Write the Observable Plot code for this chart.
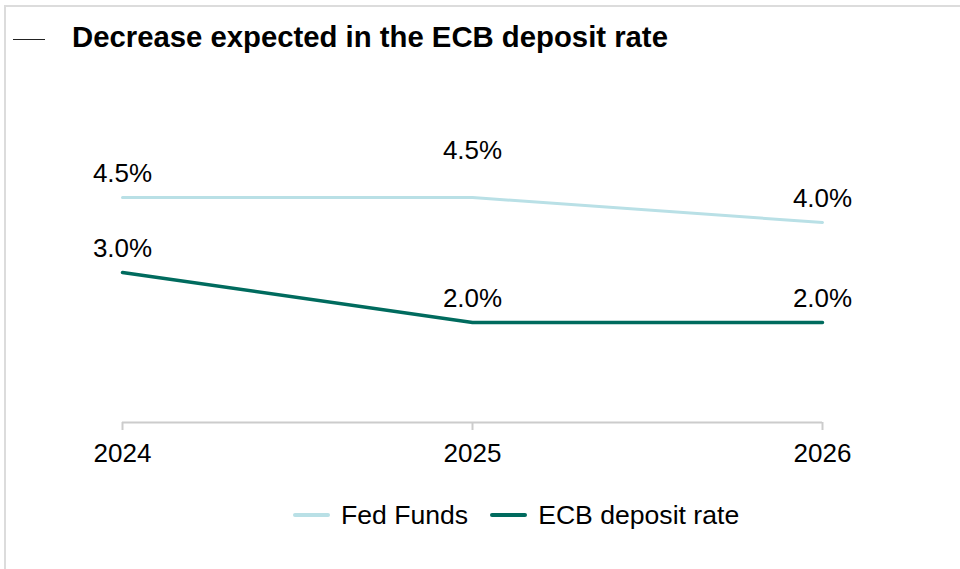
<!DOCTYPE html>
<html>
<head>
<meta charset="utf-8">
<script src="https://cdn.jsdelivr.net/npm/d3@7"></script>
<script src="https://cdn.jsdelivr.net/npm/@observablehq/plot@0.6"></script>
<style>
  html, body { margin: 0; padding: 0; background: #fff; }
  body { width: 960px; height: 569px; position: relative; overflow: hidden; font-family: "Liberation Sans", Arial, sans-serif; }
  #frame { position: absolute; left: 4px; top: 5px; width: 1000px; height: 600px; border-left: 2px solid #dcdcdc; border-top: 2px solid #dcdcdc; }
  #chart { position: absolute; left: 0; top: 0; }
  #title { position: absolute; left: 72px; top: 19px; font-size: 29.3px; font-weight: bold; color: #000; white-space: nowrap; line-height: 36px; }
  #dash { position: absolute; left: 13px; top: 39px; width: 32px; height: 1px; background: #222; }
  #legend { position: absolute; left: 293px; top: 498px; display: flex; align-items: center; font-size: 26.6px; color: #000; white-space: nowrap; line-height: 34px; }
  .sw { display: inline-block; width: 37px; height: 4px; border-radius: 2px; margin-right: 11px; }
  .item { display: flex; align-items: center; margin-right: 22px; }
</style>
</head>
<body>
<div id="frame"></div>
<div id="chart"></div>
<div id="dash"></div>
<div id="title">Decrease expected in the ECB deposit rate</div>
<div id="legend"></div>
<script>
const years = [2024, 2025, 2026];
const seriesNames = ["Fed Funds", "ECB deposit rate"];
const fedFunds = [4.5, 4.5, 4.0];
const ecbRate = [3.0, 2.0, 2.0];
const tickLabels = ["2024", "2025", "2026"];
const colors = ["#b9e0e6", "#006b5e"];

const rows = [];
years.forEach((y, i) => {
  rows.push({year: y, value: fedFunds[i], series: seriesNames[0]});
  rows.push({year: y, value: ecbRate[i], series: seriesNames[1]});
});

const fmt = v => v.toFixed(1) + "%";
const raised = d => d.series === seriesNames[0] && d.year === 2025;

const plot = Plot.plot({
  width: 960,
  height: 569,
  marginTop: 122,
  marginBottom: 147,
  marginLeft: 122,
  marginRight: 138,
  style: {background: "transparent", fontFamily: "'Liberation Sans', Arial, sans-serif"},
  x: {domain: [2024, 2026]},
  y: {domain: [0, 6], axis: null},
  color: {domain: seriesNames, range: colors},
  marks: [
    Plot.ruleY([0], {x1: 2024, x2: 2026, stroke: "#cccccc", strokeWidth: 2}),
    Plot.axisX({
      ticks: years,
      tickFormat: (d, i) => tickLabels[years.indexOf(d)],
      tickSize: 8,
      tickPadding: 13,
      stroke: "#cccccc",
      strokeWidth: 2,
      fontSize: 26,
      fill: "#000",
      label: null
    }),
    Plot.line(rows.filter(d => d.series === seriesNames[0]), {x: "year", y: "value", stroke: colors[0], strokeWidth: 3}),
    Plot.line(rows.filter(d => d.series === seriesNames[1]), {x: "year", y: "value", stroke: colors[1], strokeWidth: 3.5}),
    Plot.text(rows.filter(d => !raised(d)), {x: "year", y: "value", text: d => fmt(d.value), lineAnchor: "bottom", dy: -16, fontSize: 26, fill: "#000"}),
    Plot.text(rows.filter(raised), {x: "year", y: "value", text: d => fmt(d.value), lineAnchor: "bottom", dy: -39, fontSize: 26, fill: "#000"})
  ]
});
document.getElementById("chart").appendChild(plot);

const legend = document.getElementById("legend");
seriesNames.forEach((name, i) => {
  const item = document.createElement("span");
  item.className = "item";
  const sw = document.createElement("span");
  sw.className = "sw";
  sw.style.background = colors[i];
  item.appendChild(sw);
  item.appendChild(document.createTextNode(name));
  legend.appendChild(item);
});
</script>
</body>
</html>
